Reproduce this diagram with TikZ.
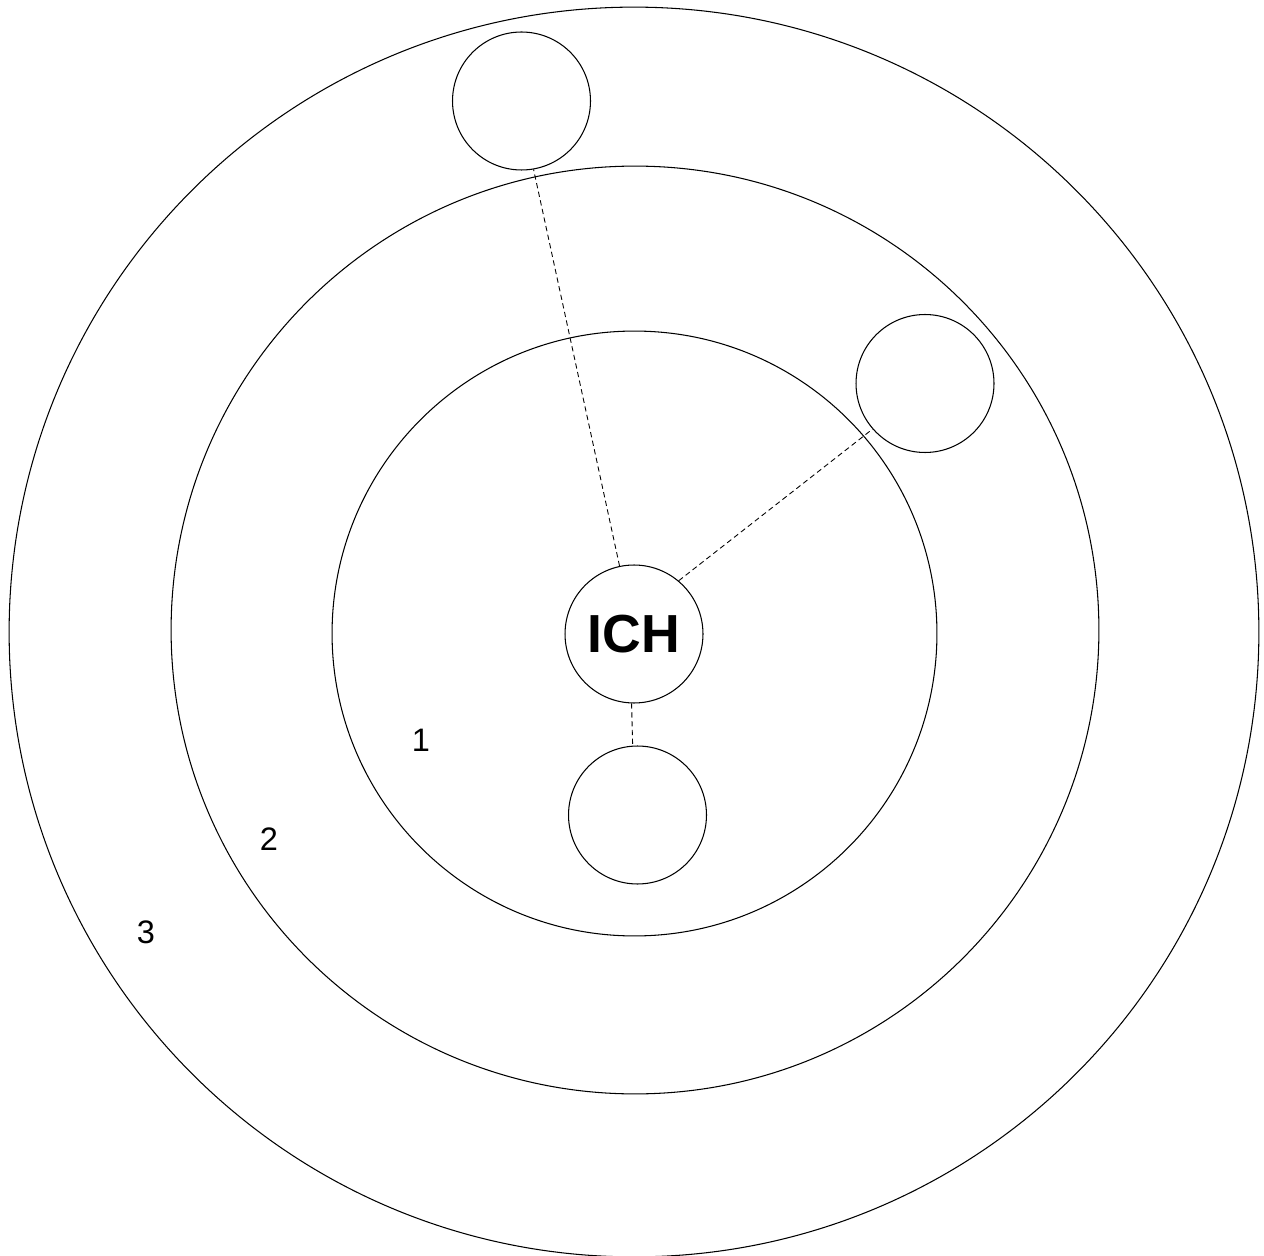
\documentclass[tikz,border=0pt]{standalone}
\usepackage{fontspec}
\setmainfont{Liberation Sans}
\usepackage{tikz}
\usetikzlibrary{positioning}
\tikzset{
  ring/.style      = {draw, circle, line width=0.6pt, inner sep=0pt},
  member/.style    = {draw, circle, line width=0.6pt, fill=white, minimum size=2.76cm, inner sep=0pt},
  link/.style      = {dashed, dash pattern=on 3pt off 2pt, line width=0.5pt},
  lvl/.style       = {font=\fontsize{18.5}{22}\selectfont, inner sep=0pt},
}
\begin{document}
\begin{tikzpicture}[x=0.02cm, y=-0.02cm]
  \useasboundingbox (0,0) rectangle (1264,1256);
  % rings
  \node[ring, minimum size=25cm]    (outer)  at (634,632)   {};
  \node[ring, minimum size=18.56cm] (middle) at (635,630)   {};
  \node[ring, minimum size=12.1cm]  (inner)  at (634.5,633.5) {};
  % members
  \node[member, font=\fontsize{30.5}{34}\selectfont\bfseries] (ich) at (634,634) {ICH};
  \node[member] (top)   at (521.5,101)  {};
  \node[member] (right) at (925,383.5)  {};
  \node[member] (below) at (637.5,815)  {};
  \draw[link] (ich.102) -- (top.280);
  \draw[link] (ich.50)  -- (right.221);
  \draw[link] (ich.268) -- (below.94);
  % level numbers
  \node[lvl] (l1) at (421,740) {1};
  \node[lvl] (l2) at (269,839) {2};
  \node[lvl] (l3) at (146,932) {3};
\end{tikzpicture}
\end{document}
